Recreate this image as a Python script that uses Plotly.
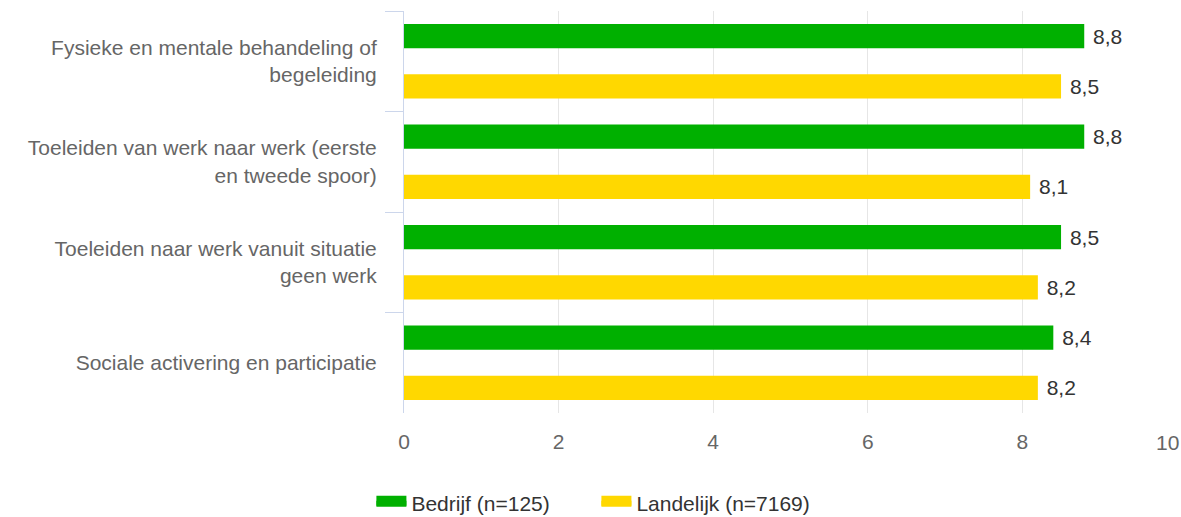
import plotly.graph_objects as go

categories = [
    "Fysieke en mentale behandeling of<br>begeleiding",
    "Toeleiden van werk naar werk (eerste<br>en tweede spoor)",
    "Toeleiden naar werk vanuit situatie<br>geen werk",
    "Sociale activering en participatie",
]
bedrijf = [8.8, 8.8, 8.5, 8.4]
landelijk = [8.5, 8.1, 8.2, 8.2]
series_names = ["Bedrijf (n=125)", "Landelijk (n=7169)"]
colors = ["#00B000", "#FFD800"]
x_ticks = [0, 2, 4, 6, 8, 10]

FONT = "Liberation Sans, Arial, sans-serif"
FS = 21

fig = go.Figure()
for name, vals, col in zip(series_names, [bedrijf, landelijk], colors):
    fig.add_trace(go.Bar(
        y=categories, x=vals, name=name, orientation="h",
        marker=dict(color=col, line=dict(width=0)),
        text=[("\u00a0" + f"{v:.1f}".replace(".", ",")) for v in vals],
        textposition="outside", cliponaxis=False,
        textfont=dict(family=FONT, size=FS, color="#333333"),
        hoverinfo="skip", showlegend=False,
    ))
# legend entries (wide rectangular swatches like the reference)
for name, col in zip(series_names, colors):
    fig.add_trace(go.Scatter(
        x=[None], y=[None], name=name, mode="lines", fill="toself",
        fillcolor=col, line=dict(color=col, width=10),
        hoverinfo="skip", showlegend=True,
    ))

fig.update_layout(
    width=1181, height=517,
    margin=dict(l=404, r=4, t=11, b=104),
    paper_bgcolor="white", plot_bgcolor="white",
    barmode="group", bargap=0.0, bargroupgap=0.52,
    font=dict(family=FONT, size=FS, color="#666666"),
    showlegend=True,
    legend=dict(
        orientation="h", xref="container", yref="container",
        x=0.505, xanchor="center", y=0.027, yanchor="middle",
        font=dict(family=FONT, size=FS, color="#333333"),
        traceorder="normal", entrywidth=180,
    ),
)
# last tick label is kept inside the chart edge (right-aligned), like the reference
last_tick = x_ticks[-1]
fig.add_annotation(
    x=last_tick, xref="x", y=0, yref="paper", text=str(last_tick),
    showarrow=False, xanchor="right", yanchor="middle", xshift=4, yshift=-29,
    font=dict(family=FONT, size=FS, color="#666666"),
)
fig.update_xaxes(
    range=[0, 10], tickvals=x_ticks,
    ticktext=[str(t) if t != last_tick else "" for t in x_ticks],
    showgrid=True, gridcolor="#e6e6e6", gridwidth=1,
    zeroline=False, showline=False, ticks="",
    tickfont=dict(family=FONT, size=FS, color="#666666"),
    ticklabelstandoff=14, automargin=False,
)
fig.update_yaxes(
    autorange="reversed", type="category",
    showline=True, linecolor="#ccd6eb", linewidth=1,
    ticks="outside", tickson="boundaries", ticklen=18, tickcolor="#ccd6eb", tickwidth=1,
    showgrid=False, zeroline=False,
    tickfont=dict(family=FONT, size=FS, color="#666666"),
    ticklabelstandoff=22, automargin=False,
)

fig.write_html(
    "out.html",
    config={"displayModeBar": False},
    post_script="document.body.style.margin='0px';document.body.style.padding='0px';",
)
